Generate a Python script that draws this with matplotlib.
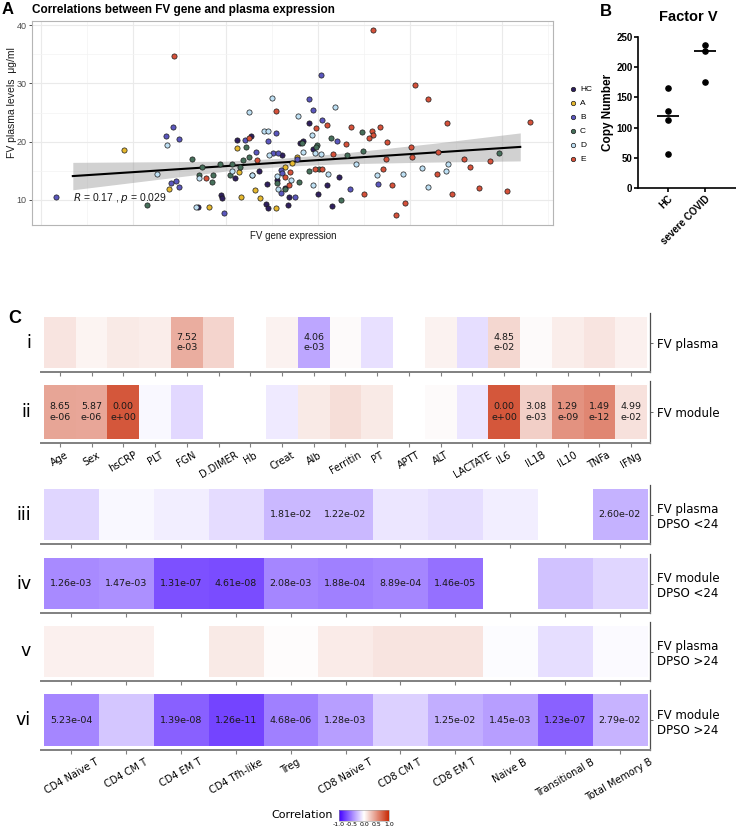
import numpy as np
import matplotlib
import matplotlib.pyplot as plt
from matplotlib.colors import LinearSegmentedColormap, Normalize
from matplotlib.cm import ScalarMappable

nan = np.nan

# ---- panel A: FV gene expression vs plasma level, per group ----
hc_x = [4.55, 4.24, 5.22, 5.61, 4.72, 4.2, 4.91, 5.11, 5.37, 3.9, 3.93, 3.4, 4.87, 4.93, 5.35, 5.8, 5.67, 5.89, 6.47, 6.2, 6.0, 6.3, 5.3]
hc_y = [21.0, 20.2, 17.7, 19.7, 15.0, 13.7, 12.7, 13.4, 10.5, 10.9, 10.4, 8.8, 9.3, 8.7, 9.1, 23.2, 20.1, 18.7, 13.9, 12.5, 11.0, 9.0, 12.0]
a_x = [1.8, 4.24, 4.29, 5.54, 2.77, 4.63, 4.74, 4.33, 3.64, 5.09, 5.28, 5.45]
a_y = [18.5, 18.9, 14.8, 17.4, 11.9, 11.7, 10.3, 10.5, 8.8, 8.6, 15.6, 16.4]
b_x = [2.86, 2.7, 2.99, 5.1, 4.43, 4.93, 4.67, 5.02, 5.13, 5.56, 0.32, 2.81, 2.92, 3.0, 5.2, 5.21, 5.23, 3.96, 6.06, 5.8, 5.89, 6.1, 6.41, 6.7, 7.3, 5.5]
b_y = [22.5, 20.9, 20.4, 21.5, 20.2, 20.1, 18.2, 18.0, 18.0, 17.1, 10.5, 12.9, 13.2, 12.2, 11.2, 15.1, 14.6, 7.8, 31.4, 27.3, 25.4, 23.7, 20.1, 11.8, 12.8, 10.5]
c_x = [4.45, 3.27, 4.52, 4.39, 3.87, 3.5, 4.14, 4.31, 2.29, 3.42, 3.7, 3.72, 4.09, 5.11, 5.3, 6.97, 6.28, 5.65, 5.99, 5.96, 6.99, 6.64, 9.93, 5.8, 6.02, 6.5, 5.6]
c_y = [19.1, 17.1, 17.4, 16.9, 16.2, 15.7, 16.1, 15.6, 9.1, 14.3, 13.1, 14.3, 14.3, 12.9, 11.9, 21.7, 20.6, 19.7, 19.4, 19.1, 18.4, 17.7, 18.0, 15.0, 15.3, 10.0, 13.0]
d_x = [4.52, 5.0, 5.57, 4.83, 4.92, 4.58, 2.73, 4.95, 2.52, 3.42, 4.15, 4.57, 5.11, 5.13, 5.43, 3.36, 6.38, 5.87, 5.69, 5.93, 6.06, 6.82, 8.83, 8.25, 8.79, 7.84, 7.29, 6.23, 5.9, 8.4]
d_y = [25.1, 27.5, 24.4, 21.8, 21.9, 14.2, 19.4, 17.7, 14.4, 13.8, 14.9, 14.3, 14.1, 11.9, 13.4, 8.8, 26.0, 21.1, 18.2, 18.0, 17.9, 16.1, 16.1, 15.5, 14.9, 14.4, 14.3, 14.4, 12.5, 12.3]
e_x = [2.88, 5.1, 4.5, 4.68, 3.57, 5.3, 5.39, 5.37, 7.19, 8.1, 8.38, 10.6, 5.97, 6.21, 6.71, 7.17, 7.19, 7.12, 7.36, 8.8, 6.62, 7.51, 8.03, 6.32, 8.05, 8.61, 7.49, 9.18, 9.74, 9.29, 7.42, 8.59, 6.1, 5.95, 7.0, 7.6, 7.9, 7.7, 8.9, 9.5, 10.1]
e_y = [34.7, 25.2, 20.6, 16.8, 13.7, 13.9, 14.8, 12.6, 39.1, 29.7, 27.3, 23.4, 22.3, 22.8, 22.5, 21.8, 21.1, 20.6, 22.5, 23.2, 19.6, 19.9, 19.1, 17.9, 17.4, 18.2, 17.1, 17.1, 16.7, 15.7, 15.3, 14.5, 15.3, 15.3, 11.0, 12.5, 9.5, 7.4, 11.0, 12.0, 11.5]
group_names = ["HC", "A", "B", "C", "D", "E"]
group_colors = ["#2F1F5E", "#E6B82E", "#5B57BE", "#46705B", "#BEE0F4", "#D6513A"]

fit_x = [0.69, 10.39]
fit_y = [14.1, 19.1]
band_x = [0.69, 2.5, 4.0, 5.3, 6.5, 8.5, 10.39]
band_lo = [11.75, 13.5, 14.95, 15.8, 16.2, 16.5, 16.7]
band_hi = [16.45, 16.55, 16.65, 17.2, 18.0, 19.7, 21.5]

# ---- panel B: copy number ----
copy_groups = ["HC", "severe COVID"]
hc_copy = [166, 127, 112, 56]
covid_copy = [236, 226, 176]

# ---- panel C: correlation heatmaps ----
clin_labels = ["Age", "Sex", "hsCRP", "PLT", "FGN", "D.DIMER", "Hb", "Creat", "Alb", "Ferritin",
               "PT", "APTT", "ALT", "LACTATE", "IL6", "IL1B", "IL10", "TNFa", "IFNg"]
plasma_r = [0.12, 0.05, 0.1, 0.08, 0.38, 0.2, nan, 0.06, -0.35, 0.02, -0.12, nan, 0.06, -0.13, 0.18, 0.02, 0.08, 0.12, 0.07]
plasma_p = ["", "", "", "", "7.52\ne-03", "", "", "", "4.06\ne-03", "", "", "", "", "", "4.85\ne-02", "", "", "", ""]
module_r = [0.42, 0.41, 0.78, -0.03, -0.15, nan, nan, -0.08, 0.1, 0.15, 0.1, nan, 0.02, -0.1, 0.78, 0.22, 0.5, 0.56, 0.14]
module_p = ["8.65\ne-06", "5.87\ne-06", "0.00\ne+00", "", "", "", "", "", "", "", "", "", "", "",
            "0.00\ne+00", "3.08\ne-03", "1.29\ne-09", "1.49\ne-12", "4.99\ne-02"]

cell_labels = ["CD4 Naive T", "CD4 CM T", "CD4 EM T", "CD4 Tfh-like", "Treg", "CD8 Naive T",
               "CD8 CM T", "CD8 EM T", "Naive B", "Transitional B", "Total Memory B"]
lt_plasma_r = [-0.16, -0.03, -0.07, -0.14, -0.28, -0.28, -0.1, -0.13, -0.07, nan, -0.3]
lt_plasma_p = ["", "", "", "", "1.81e-02", "1.22e-02", "", "", "", "", "2.60e-02"]
lt_module_r = [-0.46, -0.43, -0.68, -0.7, -0.47, -0.5, -0.47, -0.56, nan, -0.24, -0.16]
lt_module_p = ["1.26e-03", "1.47e-03", "1.31e-07", "4.61e-08", "2.08e-03", "1.88e-04", "8.89e-04", "1.46e-05", "", "", ""]
gt_plasma_r = [0.07, 0.07, nan, 0.1, 0.01, 0.09, 0.12, 0.12, -0.01, -0.13, -0.02]
gt_plasma_p = [""] * 11
gt_module_r = [-0.47, -0.22, -0.62, -0.73, -0.5, -0.38, -0.18, -0.32, -0.38, -0.61, -0.29]
gt_module_p = ["5.23e-04", "", "1.39e-08", "1.26e-11", "4.68e-06", "1.28e-03", "", "1.25e-02", "1.45e-03", "1.23e-07", "2.79e-02"]

W, H = 736, 830
fig = plt.figure(figsize=(W / 100, H / 100), dpi=100)


def box(l, t, r, b):
    return fig.add_axes([l / W, 1 - b / H, (r - l) / W, (b - t) / H])


def ftext(x, y, s, **kw):
    return fig.text(x / W, 1 - y / H, s, **kw)


ARIAL = "Liberation Sans"

# ================= panel A =================
axA = box(32, 21, 553, 225)
axA.set_xlim(-0.195, 11.1)
axA.set_ylim(5.71, 40.69)
axA.set_xticks(np.arange(0, 12, 2))
axA.set_xticks(np.arange(1, 12, 2), minor=True)
axA.set_xticklabels([])
axA.set_yticks([10, 20, 30, 40])
axA.set_yticks([15, 25, 35], minor=True)
axA.grid(which="major", color="#EAEAEA", lw=0.8)
axA.grid(which="minor", color="#F3F3F3", lw=0.5)
axA.set_axisbelow(True)
axA.tick_params(axis="x", which="both", length=0)
axA.tick_params(axis="y", which="major", length=2.5, width=0.6, color="#333333", pad=1.5,
                labelsize=6.5, labelcolor="#4D4D4D")
axA.tick_params(axis="y", which="minor", length=0)
for lab in axA.get_yticklabels():
    lab.set_family(ARIAL)
for sp in axA.spines.values():
    sp.set_color("#B5B5B5")
    sp.set_linewidth(0.8)

axA.fill_between(band_x, band_lo, band_hi, color="#999999", alpha=0.45, lw=0)
axA.plot(fit_x, fit_y, color="black", lw=1.5)

xs = [hc_x, a_x, b_x, c_x, d_x, e_x]
ys = [hc_y, a_y, b_y, c_y, d_y, e_y]
handles = []
for gx, gy, name, col in zip(xs, ys, group_names, group_colors):
    h = axA.scatter(gx, gy, s=14, color=col, edgecolor="#1A1A1A", linewidth=0.5, zorder=3, label=name)
    handles.append(h)

axA.text(0.69, 10.3, r"$\it{R}$ = 0.17 , $\it{p}$ = 0.029", fontsize=7.5, family=ARIAL,
         va="center", ha="left", color="#1A1A1A")

leg = fig.legend(handles=handles, loc="upper left", bbox_to_anchor=(565 / W, 1 - 81 / H),
                 frameon=False, handlelength=0.8, handletextpad=0.5,
                 labelspacing=0.75, borderpad=0, markerscale=0.85, prop={"family": ARIAL, "size": 6})

ftext(2, 10, "A", fontsize=12, fontweight="bold", family=ARIAL, va="center", ha="left")
ftext(32, 10, "Correlations between FV gene and plasma expression", fontsize=8.5,
      fontweight="bold", family=ARIAL, va="center", ha="left")
ftext(12, 103, "FV plasma levels  \u03bcg/ml", fontsize=7.5, family=ARIAL, rotation=90,
      va="center", ha="center", color="#1A1A1A")
ftext(293, 236, "FV gene expression", fontsize=7, family=ARIAL, va="center", ha="center",
      color="#1A1A1A")

# ================= panel B =================
axB = box(638, 37, 736, 188)
axB.set_ylim(0, 250)
axB.set_xlim(-0.81, 1.84)
for i, vals in enumerate([hc_copy, covid_copy]):
    axB.scatter([i] * len(vals), vals, s=14, color="black", zorder=3, clip_on=False)
    axB.hlines(np.median(vals), i - 0.3, i + 0.3, color="black", lw=1.3)
axB.spines["top"].set_visible(False)
axB.spines["right"].set_visible(False)
for sp in ["left", "bottom"]:
    axB.spines[sp].set_linewidth(1.2)
axB.set_yticks([0, 50, 100, 150, 200, 250])
axB.set_xticks([0, 1])
axB.set_xticklabels(copy_groups, rotation=45, ha="right", rotation_mode="anchor")
axB.tick_params(length=3, width=1.2, pad=1, labelsize=7)
for lab in axB.get_yticklabels() + axB.get_xticklabels():
    lab.set_family(ARIAL)
    lab.set_fontweight("bold")
ftext(606, 11, "B", fontsize=12, fontweight="bold", family=ARIAL, va="center", ha="center")
ftext(688, 17, "Factor V", fontsize=10.5, fontweight="bold", family=ARIAL, va="center", ha="center")
ftext(608, 112, "Copy Number", fontsize=8.5, fontweight="bold", family=ARIAL, rotation=90,
      va="center", ha="center")

# ================= panel C =================
cmap = LinearSegmentedColormap.from_list("corr", ["#4200FF", "#FFFFFF", "#C82905"])
norm = Normalize(-1, 1)


def heat_row(top, bottom, vals, notes, label, roman, xlabels=None):
    ax = box(41, top, 650, bottom)
    n = len(vals)
    m = 3.0 / (603.0 / n)
    ax.imshow(np.array(vals, dtype=float)[None, :], cmap=cmap, norm=norm, aspect="auto",
              extent=(-0.5, n - 0.5, -0.5, 0.5), interpolation="nearest")
    ax.set_xlim(-0.5 - m, n - 0.5 + m)
    ax.set_ylim(-0.58, 0.58)
    for j, s in enumerate(notes):
        if s:
            ax.text(j, 0, s, ha="center", va="center", fontsize=6.8, color="#1A1A1A",
                    linespacing=1.15)
    ax.spines["top"].set_visible(False)
    ax.spines["left"].set_visible(False)
    ax.spines["bottom"].set_color("#808080")
    ax.spines["bottom"].set_linewidth(1.4)
    ax.spines["right"].set_color("#4D4D4D")
    ax.spines["right"].set_linewidth(0.9)
    ax.set_xticks(range(n))
    if xlabels:
        ax.set_xticklabels(xlabels, rotation=30, ha="center", va="top", fontsize=7)
    else:
        ax.set_xticklabels([])
    ax.tick_params(axis="x", length=3, width=0.8, color="#808080", pad=2)
    ax.yaxis.tick_right()
    ax.set_yticks([0])
    ax.set_yticklabels([label], fontsize=8.5, ha="left")
    ax.tick_params(axis="y", length=2, width=0.6, color="#4D4D4D", pad=3)
    ftext(31, (top + bottom) / 2, roman, fontsize=12.5, ha="right", va="center")
    return ax


ftext(8, 318, "C", fontsize=13, fontweight="bold", family=ARIAL, va="center", ha="left")
heat_row(313, 372, plasma_r, plasma_p, "FV plasma", "i")
heat_row(381, 443, module_r, module_p, "FV module", "ii", clin_labels)
heat_row(485, 544, lt_plasma_r, lt_plasma_p, "FV plasma\nDPSO <24", "iii")
heat_row(554, 613, lt_module_r, lt_module_p, "FV module\nDPSO <24", "iv")
heat_row(622, 681, gt_plasma_r, gt_plasma_p, "FV plasma\nDPSO >24", "v")
heat_row(690, 750, gt_module_r, gt_module_p, "FV module\nDPSO >24", "vi", cell_labels)

cax = box(339, 810, 389, 821)
cb = fig.colorbar(ScalarMappable(norm=norm, cmap=cmap), cax=cax, orientation="horizontal")
cb.set_ticks([-1, -0.5, 0, 0.5, 1])
cb.set_ticklabels(["-1.0", "-0.5", "0.0", "0.5", "1.0"])
cb.ax.tick_params(length=0, labelsize=4.5, pad=1)
cb.outline.set_linewidth(0.4)
cb.outline.set_edgecolor("#999999")
ftext(333, 815, "Correlation", fontsize=8, ha="right", va="center")

fig.savefig("out.png", dpi=100)
